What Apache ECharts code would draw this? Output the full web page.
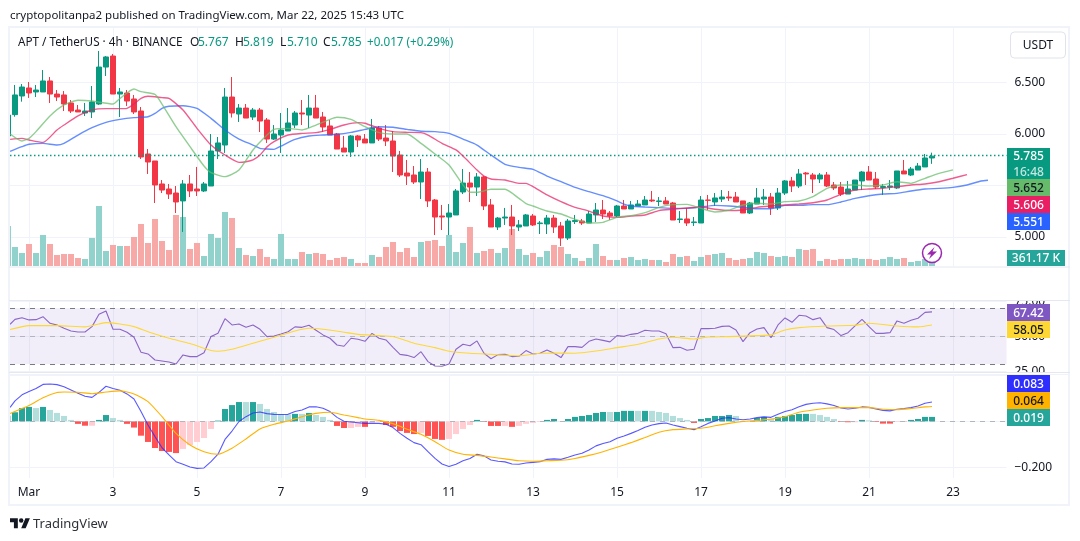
<!DOCTYPE html>
<html><head><meta charset="utf-8">
<style>html,body{margin:0;padding:0;background:#fff}#c{width:1080px;height:541px}</style>
<script src="https://cdn.jsdelivr.net/npm/echarts@6/dist/echarts.min.js"></script>
</head><body><div id="c"></div>
<script>
const firstIndex = -3;
const tickIndex = [0,12,24,36,48,60,72,84,96,108,120,132];
const tickLabels = ['Mar','3','5','7','9','11','13','15','17','19','21','23'];
const open = [5.981,6.188,6.369,6.447,6.408,6.408,6.515,6.388,6.379,6.301,6.233,6.204,6.214,6.291,6.650,6.757,6.388,6.398,6.340,6.223,5.806,5.738,5.515,5.466,5.427,5.350,5.515,5.466,5.447,5.495,5.835,5.893,6.359,6.194,6.252,6.165,6.233,6.136,5.951,5.990,6.029,6.087,6.204,6.184,6.252,6.165,6.078,6.000,5.864,5.825,5.981,5.951,5.913,6.058,5.961,5.932,5.796,5.621,5.602,5.534,5.631,5.359,5.204,5.194,5.214,5.437,5.524,5.485,5.583,5.311,5.097,5.184,5.194,5.097,5.107,5.204,5.130,5.126,5.184,5.107,4.990,5.150,5.155,5.136,5.214,5.262,5.233,5.204,5.301,5.272,5.301,5.311,5.359,5.345,5.350,5.330,5.170,5.175,5.140,5.136,5.359,5.340,5.369,5.388,5.388,5.350,5.233,5.320,5.369,5.388,5.282,5.427,5.544,5.495,5.621,5.602,5.563,5.602,5.505,5.485,5.417,5.456,5.544,5.631,5.563,5.480,5.485,5.476,5.641,5.602,5.650,5.680,5.767];
const high = [6.200,6.476,6.485,6.505,6.476,6.621,6.553,6.427,6.417,6.330,6.282,6.301,6.466,6.806,6.757,6.777,6.447,6.427,6.379,6.262,5.854,5.738,5.553,5.515,5.495,5.553,5.602,5.680,5.534,6.000,5.971,6.447,6.553,6.291,6.291,6.252,6.252,6.155,6.087,6.204,6.252,6.223,6.330,6.379,6.379,6.214,6.136,6.010,5.981,5.990,5.990,6.000,6.146,6.078,6.087,6.029,5.835,5.748,5.689,5.757,5.670,5.369,5.311,5.320,5.466,5.660,5.631,5.621,5.592,5.369,5.194,5.282,5.311,5.165,5.223,5.223,5.155,5.214,5.214,5.146,5.175,5.214,5.175,5.252,5.330,5.359,5.252,5.311,5.359,5.350,5.359,5.398,5.447,5.388,5.388,5.340,5.252,5.282,5.194,5.398,5.408,5.427,5.456,5.447,5.437,5.350,5.340,5.476,5.466,5.427,5.476,5.553,5.583,5.660,5.631,5.621,5.621,5.631,5.534,5.534,5.544,5.553,5.641,5.689,5.631,5.515,5.553,5.641,5.748,5.680,5.718,5.806,5.819];
const low = [5.950,6.168,6.314,6.350,6.359,6.408,6.301,6.320,6.223,6.204,6.214,6.175,6.155,6.282,6.563,6.388,6.165,6.272,6.194,5.757,5.612,5.330,5.427,5.369,5.233,5.049,5.388,5.398,5.437,5.495,5.757,5.816,6.160,6.117,6.155,6.136,6.019,5.913,5.942,5.816,6.029,6.058,6.087,6.058,6.155,6.019,5.990,5.854,5.825,5.777,5.874,5.913,5.913,5.932,5.883,5.631,5.583,5.505,5.515,5.369,5.291,5.019,5.068,5.019,5.214,5.417,5.340,5.398,5.262,5.097,5.068,5.117,5.019,5.058,5.107,5.107,5.029,5.029,5.039,4.913,4.971,5.126,5.117,5.136,5.146,5.175,5.165,5.194,5.272,5.272,5.301,5.311,5.340,5.301,5.320,5.165,5.136,5.107,5.107,5.136,5.262,5.301,5.340,5.350,5.340,5.233,5.223,5.320,5.311,5.214,5.262,5.408,5.437,5.476,5.505,5.427,5.524,5.485,5.456,5.398,5.417,5.456,5.456,5.553,5.466,5.408,5.456,5.466,5.612,5.592,5.650,5.680,5.710];
const close = [6.184,6.379,6.456,6.398,6.427,6.515,6.388,6.359,6.291,6.223,6.214,6.223,6.311,6.650,6.748,6.388,6.408,6.320,6.214,5.777,5.728,5.505,5.456,5.417,5.340,5.515,5.447,5.447,5.515,5.835,5.913,6.359,6.204,6.252,6.155,6.233,6.126,5.951,6.000,6.039,6.107,6.204,6.194,6.252,6.155,6.068,5.990,5.854,5.825,5.981,5.942,5.913,6.058,5.951,5.932,5.786,5.602,5.592,5.534,5.631,5.350,5.194,5.194,5.233,5.447,5.524,5.485,5.583,5.301,5.097,5.184,5.194,5.107,5.117,5.214,5.117,5.136,5.184,5.097,4.990,5.155,5.160,5.136,5.223,5.262,5.223,5.204,5.301,5.272,5.311,5.320,5.359,5.350,5.350,5.320,5.165,5.175,5.136,5.146,5.359,5.356,5.379,5.388,5.379,5.340,5.233,5.330,5.379,5.388,5.282,5.427,5.544,5.495,5.612,5.612,5.563,5.602,5.495,5.476,5.417,5.466,5.553,5.631,5.553,5.485,5.490,5.495,5.641,5.612,5.660,5.689,5.767,5.785];
const volumeK = [1600,760,520,880,520,1240,880,440,480,480,320,280,1120,2400,600,840,800,800,1160,1680,920,1880,1000,640,2040,1960,680,920,400,1280,1120,2160,1920,720,440,400,680,360,280,1280,280,280,560,480,520,480,240,320,360,280,120,120,440,360,760,960,560,720,360,960,1000,1040,800,1240,560,920,1560,520,600,680,520,720,1480,680,440,520,360,600,840,760,480,320,200,320,880,400,240,240,320,360,240,280,240,240,160,480,360,400,200,360,440,480,520,320,240,280,320,560,520,400,360,400,360,680,640,680,200,280,240,280,280,320,280,280,240,280,360,280,320,160,200,280,361.17];
const greenMA = [[-2.7,6.000],[-1,5.932],[0,5.958],[1,6.023],[3,6.175],[5,6.282],[7,6.327],[9,6.320],[12,6.291],[13,6.346],[15,6.437],[16,6.411],[18,6.385],[19,6.291],[21,6.071],[23,5.877],[25,5.689],[26,5.625],[28,5.586],[30,5.650],[32,5.845],[34,5.990],[35,6.045],[37,6.055],[39,6.039],[41,6.087],[43,6.142],[44,6.162],[46,6.142],[48,6.071],[50,6.013],[52,6.000],[54,6.000],[56,5.909],[58,5.806],[60,5.699],[62,5.505],[63,5.434],[64,5.434],[66,5.463],[68,5.463],[70,5.375],[71,5.325],[72,5.301],[74,5.252],[76,5.223],[78,5.172],[80,5.136],[82,5.142],[84,5.191],[86,5.207],[88,5.236],[90,5.288],[92,5.314],[94,5.317],[96,5.278],[98,5.243],[100,5.262],[102,5.311],[104,5.327],[106,5.320],[108,5.343],[110,5.350],[112,5.392],[114,5.472],[116,5.505],[118,5.505],[120,5.495],[122,5.505],[124,5.537],[126,5.521],[128,5.570],[130,5.618],[132,5.652]];
const redMA = [[-2.7,5.948],[-1,5.958],[0,5.942],[2,5.919],[4,6.039],[5,6.087],[7,6.175],[9,6.233],[11,6.246],[13,6.246],[14,6.249],[15,6.291],[16,6.346],[17,6.366],[19,6.353],[20,6.346],[22,6.233],[24,6.055],[26,5.893],[28,5.796],[30,5.725],[31,5.731],[32,5.748],[33,5.796],[34,5.875],[35,5.926],[37,5.990],[39,6.006],[41,6.013],[43,6.045],[45,6.087],[47,6.110],[48,6.104],[50,6.055],[52,6.023],[54,6.016],[56,6.013],[57,5.990],[59,5.909],[61,5.845],[62,5.786],[64,5.650],[65,5.592],[66,5.563],[68,5.553],[70,5.521],[71,5.521],[72,5.489],[74,5.408],[76,5.343],[78,5.288],[80,5.252],[82,5.204],[84,5.191],[86,5.204],[88,5.214],[90,5.256],[92,5.269],[94,5.282],[96,5.291],[98,5.269],[100,5.256],[102,5.262],[104,5.288],[106,5.301],[108,5.311],[110,5.320],[112,5.333],[114,5.359],[116,5.414],[118,5.456],[120,5.466],[122,5.472],[124,5.489],[126,5.505],[128,5.515],[130,5.537],[132,5.570],[134,5.606]];
const blueMA = [[-2.7,5.832],[-1,5.877],[0,5.900],[2,5.909],[4,5.893],[5,5.909],[7,5.990],[9,6.061],[11,6.113],[13,6.142],[15,6.159],[17,6.168],[18,6.200],[19,6.249],[20,6.269],[22,6.275],[24,6.249],[26,6.152],[28,6.039],[30,5.951],[32,5.893],[33,5.861],[34,5.854],[35,5.851],[36,5.883],[38,5.948],[40,5.981],[42,5.990],[44,5.997],[46,6.016],[48,6.045],[50,6.071],[52,6.065],[54,6.045],[56,6.026],[58,6.023],[60,6.006],[62,5.951],[64,5.893],[66,5.796],[68,5.706],[70,5.676],[72,5.657],[74,5.592],[76,5.537],[78,5.482],[80,5.440],[82,5.401],[84,5.350],[85,5.320],[86,5.301],[88,5.291],[90,5.285],[92,5.278],[94,5.278],[96,5.291],[98,5.307],[100,5.301],[102,5.288],[104,5.275],[106,5.275],[108,5.307],[110,5.307],[112,5.314],[114,5.314],[116,5.340],[118,5.375],[120,5.401],[122,5.417],[124,5.424],[126,5.447],[128,5.466],[130,5.472],[132,5.482],[134,5.505],[136,5.544],[137,5.551]];
const rsiFirst = -2;
const rsiLine = [62.1,63.3,61.7,61.9,64.0,59.3,58.1,55.7,53.8,53.1,53.1,56.9,65.7,68.1,55,55,52.9,49.3,38.6,37.4,33.1,32.4,31.7,30.2,36.7,35.5,35.5,38.3,49.8,52.1,62.6,58.1,58.8,56.4,58.1,55,49.8,50.2,51.7,53.3,56.7,56.4,57.9,54.3,51,48.6,43.8,42.9,48.6,47.9,46.4,52.1,48.6,47.4,42.1,37.1,36.4,34.8,39,31.9,28.8,28.6,30.2,40.7,44.3,43.3,46.7,37.9,34,36.9,37.1,35.5,35.7,39.8,37.4,37.9,40.2,37.9,34.8,42.6,42.6,42.1,46.4,48.1,47.1,46,50.5,50,51.4,52.1,54.3,53.8,53.8,51.9,41.9,42.1,40,40.7,55.5,55.5,55.7,57.1,57.4,54.5,46.2,52.6,55.2,56.2,49,58.1,63.1,60,65,64.5,61.9,63.3,56.2,54.8,50.5,52.6,57.4,62.1,56.9,52.1,52.1,52.6,61,59.3,61.4,62.9,67.1,67.42];
const rsiLeadIn = [[-2.7,58.6]];
const rsiMA = [[-2.7,54.8],[0,57.6],[4,57.6],[8,56.7],[10,58.8],[11,59.8],[13,58.8],[15,56.9],[17,53.3],[20,48.6],[23,44.8],[26,39.8],[27,39.3],[29,40.7],[32,45],[35,49.3],[38,53.8],[40,55.7],[42,55],[45,52.9],[47,51.4],[50,50.5],[52,49.8],[55,45],[58,41.9],[60,39.3],[63,37.9],[66,37.1],[70,36],[73,37.9],[75,38.1],[78,37.9],[81,39.5],[84,41.9],[87,44.3],[90,48.1],[92,49.3],[95,48.1],[97,49.5],[100,49.8],[104,50.5],[106,51],[108,54.5],[110,56.2],[114,57.4],[118,57.9],[120,59.3],[124,57.4],[127,56.7],[129,58.05]];
const macdLine = [.088,.114,.128,.141,.159,.161,.158,.149,.135,.121,.108,.103,.125,.151,.141,.134,.118,.096,.042,-.016,-.066,-.114,-.145,-.174,-.185,-.197,-.203,-.201,-.174,-.142,-.078,-.042,-.001,.020,.036,.040,.033,.030,.029,.030,.042,.049,.062,.063,.056,.042,.017,0,-.003,-.006,-.009,-.009,-.009,-.013,-.027,-.052,-.073,-.092,-.101,-.131,-.160,-.184,-.195,-.185,-.170,-.160,-.142,-.149,-.167,-.172,-.175,-.184,-.185,-.180,-.177,-.174,-.164,-.162,-.164,-.155,-.145,-.138,-.124,-.106,-.096,-.088,-.073,-.063,-.052,-.040,-.026,-.016,-.010,-.007,-.016,-.023,-.030,-.036,-.023,-.009,.001,.013,.016,.010,.007,.010,.016,.019,.017,.030,.042,.050,.063,.073,.078,.080,.075,.068,.057,.053,.056,.062,.060,.053,.047,.045,.052,.055,.059,.066,.078,.083];
const macdLeadIn = [[-2.7,.060]];
const signalLine = [[-2.7,.034],[0,.068],[2,.102],[4,.124],[5,.126],[7,.125],[9,.119],[11,.126],[13,.131],[15,.118],[17,.085],[19,.020],[21,-.052],[23,-.102],[25,-.131],[27,-.142],[29,-.116],[31,-.076],[33,-.033],[35,-.013],[37,.001],[39,.020],[41,.034],[43,.039],[45,.027],[47,.016],[48,.010],[50,.004],[52,-.010],[54,-.034],[56,-.056],[58,-.088],[60,-.124],[62,-.142],[64,-.147],[66,-.154],[68,-.162],[70,-.170],[72,-.172],[74,-.170],[76,-.168],[78,-.160],[80,-.147],[82,-.131],[84,-.112],[86,-.092],[88,-.070],[90,-.047],[92,-.036],[94,-.033],[96,-.030],[97,-.026],[98,-.019],[100,-.009],[102,-.001],[104,.004],[106,.010],[108,.020],[110,.039],[112,.049],[114,.056],[116,.059],[118,.059],[120,.059],[122,.052],[124,.050],[126,.055],[128,.062],[129,.064]];
const macdHist = [.024,.039,.057,.062,.057,.062,.049,.036,.023,.006,-.011,-.019,-.019,.006,.027,.014,.006,-.011,-.027,-.062,-.089,-.115,-.128,-.132,-.137,-.119,-.102,-.089,-.072,-.033,.003,.053,.070,.083,.083,.083,.075,.053,.040,.030,.030,.032,.032,.036,.027,.019,.006,-.020,-.029,-.029,-.024,-.024,-.007,-.003,-.016,-.024,-.042,-.050,-.055,-.050,-.063,-.076,-.080,-.076,-.055,-.033,-.016,.006,-.003,-.020,-.020,-.020,-.024,-.020,-.011,-.007,-.003,.006,.010,.001,.010,.019,.023,.027,.036,.040,.040,.040,.045,.045,.045,.045,.045,.040,.036,.023,.014,.006,-.007,.010,.014,.023,.023,.027,.023,.001,.001,.014,.019,.010,.019,.023,.027,.032,.032,.032,.027,.019,.010,-.003,-.004,-.004,.006,.004,-.003,-.010,-.010,-.003,-.001,.006,.010,.019,.019];
const macdStrong = [0,1,1,1,0,1,0,0,0,0,1,1,0,1,1,0,0,1,1,1,1,1,1,1,1,0,0,0,0,0,1,1,1,1,0,1,0,0,0,0,0,1,0,1,0,0,0,1,1,0,0,1,0,0,1,1,1,1,1,0,1,1,1,0,0,0,0,1,1,1,1,0,1,0,0,0,0,1,1,0,1,1,1,1,1,1,0,1,1,1,0,1,0,0,0,0,0,0,1,1,1,1,1,1,0,0,0,1,1,0,1,1,1,1,1,0,0,0,0,1,1,0,1,0,1,1,1,0,1,1,1,1,1];
const rsiLevels = [70,50,30];
const priceTicks = [5,5.5,6,6.5];
const priceLabels = [5,6,6.5];
const lastClose = 5.785;

const GREEN='#089981', RED='#f23645', TEXT='#131722', GRID='#f0f3fa', FONT='"Noto Sans", sans-serif';
const PL=10, PW=996.5, XMIN=(PL-29)/7, XMAX=(PL+PW-29)/7;
const xIdx = i => i + firstIndex;

const candleData = open.map((o,i)=>[xIdx(i),o,close[i],low[i],high[i]]);
const volData = volumeK.map((v,i)=>({value:[xIdx(i),v],itemStyle:{color:close[i]>=open[i]?'#92d2cc':'#f7a9a7'}}));
const rsiData = rsiLeadIn.concat(rsiLine.map((v,i)=>[i+rsiFirst,v]));
const macdData = macdLeadIn.concat(macdLine.map((v,i)=>[i+rsiFirst,v]));
const histData = macdHist.map((v,i)=>({value:[xIdx(i),v],itemStyle:{color:v>=0?(macdStrong[i]?'#26a69a':'#b2dfdb'):(macdStrong[i]?'#ff5252':'#ffcdd2')}}));

function xAxis(gi,showLabel){return {type:'value',gridIndex:gi,min:XMIN,max:XMAX,
  axisLine:{show:false},
  axisTick:{show:false,customValues:tickIndex},
  splitLine:{show:true,lineStyle:{color:GRID,width:1}},
  axisLabel:{show:showLabel,customValues:tickIndex,margin:9,fontSize:12,fontFamily:FONT,color:TEXT,
    formatter:v=>tickLabels[tickIndex.indexOf(v)]}};}
function yAxis(gi,min,max,ticks,labels,fmt,extra){return Object.assign({type:'value',gridIndex:gi,position:'right',min,max,scale:true,
  axisLine:{show:false},
  axisTick:{show:false,customValues:ticks},
  splitLine:{show:true,lineStyle:{color:GRID,width:1}},
  axisLabel:{show:true,customValues:labels,margin:8,fontSize:12,fontFamily:FONT,color:TEXT,align:'left',padding:[4,0,0,0],formatter:fmt}},extra||{});}

function t(x,y,text,o){o=o||{};return {type:'text',z:o.z||100,x,y:y+1,silent:true,style:{text,fontFamily:FONT,fontSize:o.size||12,fontWeight:o.weight||'normal',fill:o.fill||TEXT,align:o.align||'left',verticalAlign:'middle'}};}
function tag(x,y,w,h,bg,lines,fill){
  const els=[{type:'rect',z:90,silent:true,shape:{x,y,width:w,height:h},style:{fill:bg}}];
  lines.forEach((l,i)=>els.push(t(x+w/2,y+h*(i+.5)/lines.length,l.text,{align:'center',fill:l.fill||fill,size:12,weight:500})));
  return els;}
function hl(y,x1,x2,c,w){return {type:'line',z:80,silent:true,shape:{x1:x1==null?9:x1,y1:y,x2:x2==null?1070:x2,y2:y},style:{stroke:c||'#e6e8f0',lineWidth:w||1}};}

const graphicEls = [
  t(10,15,'cryptopolitanpa2 published on TradingView.com, Mar 22, 2025 15:43 UTC',{size:11.5}),
  t(18,41.5,'APT / TetherUS · 4h · BINANCE',{size:11.7}),
  t(190,41.5,'O'),t(198,41.5,'5.767',{fill:GREEN}),
  t(235,41.5,'H'),t(243,41.5,'5.819',{fill:GREEN}),
  t(280,41.5,'L'),t(287,41.5,'5.710',{fill:GREEN}),
  t(323,41.5,'C'),t(331,41.5,'5.785',{fill:GREEN}),
  t(367,41.5,'+0.017 (+0.29%)',{fill:GREEN,size:11.7}),
  {type:'rect',z:70,silent:true,shape:{x:9,y:27,width:1060,height:478},style:{fill:'none',stroke:'#f0f3fa',lineWidth:2}},
  {type:'rect',z:75,silent:true,shape:{x:1008,y:292,width:50,height:8.5},style:{fill:'#fff'}},
  {type:'rect',z:75,silent:true,shape:{x:1008,y:372.5,width:50,height:2.5},style:{fill:'#fff'}},
  hl(267),hl(300.5),hl(372.5,null,null,'#e6e8f0'),hl(374.5,null,null,'#f0f3fa'),
  {type:'rect',z:60,silent:true,shape:{x:0,y:27,width:9,height:480},style:{fill:'#fff'}},
  {type:'rect',z:85,silent:true,shape:{x:1010.5,y:32,width:55,height:26,r:4},style:{fill:'#fff',stroke:'#e0e3eb',lineWidth:1}},
  t(1038,45,'USDT',{align:'center',size:12,z:90}),
  ...tag(1007,148,43,31,GREEN,[{text:'5.785'},{text:'16:48',fill:'#c3e6df'}],'#fff'),
  ...tag(1007,179,43,17,'#66bb6a',[{text:'5.652'}],TEXT),
  ...tag(1007,196,43,17,'#e91e63',[{text:'5.606'}],'#fff'),
  ...tag(1007,213,43,17,'#2962ff',[{text:'5.551'}],'#fff'),
  ...tag(1007,250,58,16,'#26a69a',[{text:'361.17 K'}],'#fff'),
  ...tag(1007,304,43,17,'#7e57c2',[{text:'67.42'}],'#fff'),
  ...tag(1007,321,43,17,'#fdd835',[{text:'58.05'}],TEXT),
  ...tag(1007,375,43,17,'#2e2eff',[{text:'0.083'}],'#fff'),
  ...tag(1007,392,43,17,'#ffb300',[{text:'0.064'}],TEXT),
  ...tag(1007,409,43,17,'#26a69a',[{text:'0.019'}],'#fff'),
  {type:'circle',z:95,silent:true,shape:{cx:932,cy:253,r:9.5},style:{fill:'#fff',stroke:'#9c27b0',lineWidth:1.5}},
  {type:'polygon',z:96,silent:true,shape:{points:[[934.5,247],[927,254.5],[931,254.5],[929,259],[937,251.5],[932.5,251.5]]},style:{fill:'#9c27b0'}},
  {type:'group',z:100,x:10,y:516,scaleX:.56,scaleY:.56,children:[
    {type:'polygon',silent:true,z:100,shape:{points:[[0,4],[14,4],[14,22],[7,22],[7,11],[0,11]]},style:{fill:TEXT}},
    {type:'polygon',silent:true,z:100,shape:{points:[[20,22],[28,22],[35.5,4],[27.5,4]]},style:{fill:TEXT}},
    {type:'circle',silent:true,z:100,shape:{cx:20,cy:8,r:4},style:{fill:TEXT}}]},
  t(33,523,'TradingView',{size:13,fill:'#2e3238'})
];

const chart = echarts.init(document.getElementById('c'),null,{renderer:'canvas'});
chart.setOption({
  animation:false,
  backgroundColor:'#fff',
  graphic:{elements:graphicEls},
  grid:[
    {left:PL,width:PW,top:28,height:238},
    {left:PL,width:PW,top:301,height:71},
    {left:PL,width:PW,top:374.5,height:103.5}
  ],
  xAxis:[xAxis(0,false),xAxis(1,false),xAxis(2,true)],
  yAxis:[
    yAxis(0,5-(266-237)/103,5+(237-28)/103,priceTicks,priceLabels,v=>v.toFixed(3)),
    {type:'value',gridIndex:0,min:0,max:9520,show:false,splitLine:{show:false}},
    yAxis(1,50-(372-336.3)/1.4,50+(336.3-301)/1.4,[25,50,75],[25,50,75],v=>v.toFixed(2)),
    yAxis(2,-(478-421.3)/232,(421.3-374.5)/232,[-.2,0,.2],[-.2],v=>'\u2212'+Math.abs(v).toFixed(3))
  ],
  series:[
    {type:'bar',name:'Volume',xAxisIndex:0,yAxisIndex:1,data:volData,barWidth:6,z:2,large:false},
    {type:'candlestick',name:'APT',xAxisIndex:0,yAxisIndex:0,data:candleData,barWidth:5,z:4,
      encode:{x:0,y:[1,2,3,4]},
      itemStyle:{color:GREEN,color0:RED,borderColor:GREEN,borderColor0:RED,borderWidth:1},
      markLine:{silent:true,symbol:'none',animation:false,label:{show:false},
        data:[{yAxis:lastClose,lineStyle:{color:GREEN,type:[1.5,2.5],width:1.3,opacity:1}}]}},
    {type:'line',name:'Jaw',xAxisIndex:0,yAxisIndex:0,data:blueMA,showSymbol:false,smooth:.2,z:5,lineStyle:{color:'#2962ff',width:1.4,opacity:.72}},
    {type:'line',name:'Teeth',xAxisIndex:0,yAxisIndex:0,data:redMA,showSymbol:false,smooth:.2,z:5,lineStyle:{color:'#e91e63',width:1.4,opacity:.72}},
    {type:'line',name:'Lips',xAxisIndex:0,yAxisIndex:0,data:greenMA,showSymbol:false,smooth:.2,z:5,lineStyle:{color:'#66bb6a',width:1.4,opacity:.72}},
    {type:'line',name:'RSI',xAxisIndex:1,yAxisIndex:2,data:rsiData,showSymbol:false,z:5,lineStyle:{color:'#7e57c2',width:1.1,opacity:.9},
      markArea:{silent:true,itemStyle:{color:'rgba(126,87,194,0.1)'},data:[[{yAxis:rsiLevels[0]},{yAxis:rsiLevels[2]}]]},
      markLine:{silent:true,symbol:'none',animation:false,label:{show:false},data:[
        {yAxis:rsiLevels[0],lineStyle:{color:'#787b86',type:[5,5],width:1}},
        {yAxis:rsiLevels[1],lineStyle:{color:'#b2b5be',type:[5,5],width:1}},
        {yAxis:rsiLevels[2],lineStyle:{color:'#787b86',type:[5,5],width:1}}]}},
    {type:'line',name:'RSI MA',xAxisIndex:1,yAxisIndex:2,data:rsiMA,showSymbol:false,smooth:.2,z:5,lineStyle:{color:'#fdd835',width:1.1}},
    {type:'bar',name:'Histogram',xAxisIndex:2,yAxisIndex:3,data:histData,barWidth:6,z:2,
      markLine:{silent:true,symbol:'none',animation:false,label:{show:false},data:[{yAxis:0,lineStyle:{color:'#b2b5be',type:[5,5],width:1}}]}},
    {type:'line',name:'MACD',xAxisIndex:2,yAxisIndex:3,data:macdData,showSymbol:false,z:5,lineStyle:{color:'#2e2eff',width:1.1,opacity:.8}},
    {type:'line',name:'Signal',xAxisIndex:2,yAxisIndex:3,data:signalLine,showSymbol:false,smooth:.2,z:6,lineStyle:{color:'#ffb300',width:1.1}}
  ]
});
</script></body></html>
